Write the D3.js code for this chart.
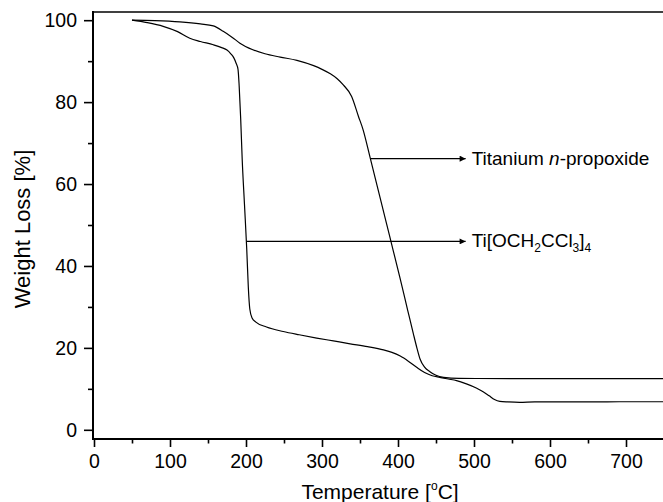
<!DOCTYPE html>
<html>
<head>
<meta charset="utf-8">
<script src="https://cdn.jsdelivr.net/npm/d3@7"></script>
<style>
  body { margin: 0; background: #fff; }
  text { font-family: "Liberation Sans", Arial, sans-serif; fill: #000; }
</style>
</head>
<body>
<div class="chart"></div>
<script>
// Chart Sizes
const w = 663;
const h = 502;
const margin = { top: 12, right: -1, bottom: 64, left: 94 };

// Data: temperature [°C] and weight [%]
const propoxideTemp = [50, 80, 113, 140, 157, 170, 182, 192, 209, 225, 245, 267, 289, 300, 311, 320, 328, 339, 348, 354, 363, 376, 389.5, 402.6, 413, 420, 425, 429, 435, 442, 450, 460, 480, 550, 650, 750];
const propoxideWeight = [100, 99.9, 99.6, 99.1, 98.6, 97.3, 95.8, 94.4, 92.8, 91.8, 91.0, 90.2, 88.9, 88.0, 86.9, 85.7, 84.2, 81.4, 76.5, 73.3, 66.7, 57.0, 46.9, 37.1, 29.0, 23.6, 19.9, 17.3, 15.3, 14.2, 13.3, 12.8, 12.55, 12.5, 12.5, 12.5];

const trichloroTemp = [50, 70, 91, 110, 126, 140, 157, 168, 175, 180, 184, 187, 189.5, 191, 193, 195, 198, 201, 203, 205, 208, 213, 227, 249, 270, 293, 315, 337, 360, 381, 392, 403, 414, 425, 435, 445, 455, 466, 477, 490, 503, 512, 520, 527, 534, 545, 560, 580, 600, 650, 700, 750];
const trichloroWeight = [100, 99.4, 98.5, 97.2, 95.6, 94.8, 94.0, 93.3, 92.7, 91.8, 90.8, 89.5, 88.0, 84, 76, 66, 55, 44, 35, 29.5, 27.3, 26.3, 25.1, 24.0, 23.2, 22.4, 21.7, 21.0, 20.3, 19.5, 18.9, 18.0, 16.7, 15.2, 14.0, 13.2, 12.8, 12.4, 12.0, 11.2, 10.2, 9.3, 8.3, 7.4, 6.95, 6.8, 6.7, 6.8, 6.8, 6.8, 6.85, 6.85];

// Axis ticks
const xMajor = [0, 100, 200, 300, 400, 500, 600, 700];
const xMinor = [50, 150, 250, 350, 450, 550, 650, 750];
const yMajor = [0, 20, 40, 60, 80, 100];
const yMinor = [10, 30, 50, 70, 90];

// Annotations: arrow start temperature, arrow end temperature, weight level
const labelNames = ["propoxide", "trichloro"];
const arrowFrom = [364, 201];
const arrowTo = [489, 489];
const arrowAt = [66.2, 46.0];

const svg = d3
  .select(".chart")
  .append("svg")
  .attr("width", w)
  .attr("height", h);

// Scales
const xScale = d3.scaleLinear().domain([0, 750]).range([margin.left, 664]);
const yScale = d3.scaleLinear().domain([-2, 102]).range([h - margin.bottom, margin.top]);

// Arrow marker
svg
  .append("defs")
  .append("marker")
  .attr("id", "arrow")
  .attr("viewBox", "0 0 10 10")
  .attr("refX", 10)
  .attr("refY", 5)
  .attr("markerWidth", 12)
  .attr("markerHeight", 6)
  .attr("markerUnits", "userSpaceOnUse")
  .attr("orient", "auto")
  .append("path")
  .attr("d", "M0,0 L10,5 L0,10 Z")
  .attr("fill", "#000");

// Axes
const fontTick = "19.5px";

const xAxis = svg
  .append("g")
  .attr("transform", `translate(0, ${h - margin.bottom + 1})`)
  .call(d3.axisBottom(xScale).tickValues(xMajor).tickSize(8).tickPadding(7));
xAxis.selectAll("text").style("font-size", fontTick);

const xAxisMinor = svg
  .append("g")
  .attr("transform", `translate(0, ${h - margin.bottom + 1})`)
  .call(d3.axisBottom(xScale).tickValues(xMinor).tickSize(4.5).tickFormat(""));

const yAxis = svg
  .append("g")
  .attr("transform", `translate(${margin.left - 1}, 0)`)
  .call(d3.axisLeft(yScale).tickValues(yMajor).tickSize(9).tickPadding(7));
yAxis.selectAll("text").style("font-size", fontTick);

const yAxisMinor = svg
  .append("g")
  .attr("transform", `translate(${margin.left - 1}, 0)`)
  .call(d3.axisLeft(yScale).tickValues(yMinor).tickSize(5).tickFormat(""));

svg.selectAll(".domain").remove();
svg.selectAll(".tick line").attr("stroke", "#000").attr("stroke-width", 1.6);

// Frame lines
svg
  .append("line")
  .attr("x1", margin.left - 1)
  .attr("x2", margin.left - 1)
  .attr("y1", margin.top - 1)
  .attr("y2", h - margin.bottom + 2)
  .attr("stroke", "#000")
  .attr("stroke-width", 2);

svg
  .append("line")
  .attr("x1", margin.left - 2)
  .attr("x2", w)
  .attr("y1", h - margin.bottom + 1)
  .attr("y2", h - margin.bottom + 1)
  .attr("stroke", "#000")
  .attr("stroke-width", 2);

svg
  .append("line")
  .attr("x1", margin.left - 2)
  .attr("x2", w)
  .attr("y1", margin.top)
  .attr("y2", margin.top)
  .attr("stroke", "#000")
  .attr("stroke-width", 1.6);

// Axis Labels
const xLabel = svg
  .append("text")
  .attr("text-anchor", "middle")
  .attr("x", 380)
  .attr("y", 499)
  .style("font-size", "21px");
xLabel.append("tspan").text("Temperature [");
xLabel.append("tspan").text("o").style("font-size", "12px").attr("dy", -9);
xLabel.append("tspan").text("C]").attr("dy", 9);

svg
  .append("text")
  .text("Weight Loss [%]")
  .attr("text-anchor", "middle")
  .attr("transform", "translate(30, 229) rotate(-90)")
  .style("font-size", "22px");

// Curves
const line = d3
  .line()
  .x((d) => xScale(d[0]))
  .y((d) => yScale(d[1]))
  .curve(d3.curveMonotoneX);

const curves = [
  d3.zip(propoxideTemp, propoxideWeight),
  d3.zip(trichloroTemp, trichloroWeight),
];

svg
  .selectAll(".curve")
  .data(curves)
  .enter()
  .append("path")
  .attr("class", "curve")
  .attr("d", line)
  .attr("fill", "none")
  .attr("stroke", "#000")
  .attr("stroke-width", 1.2);

// Annotation arrows
labelNames.forEach((name, i) => {
  svg
    .append("line")
    .attr("x1", xScale(arrowFrom[i]))
    .attr("x2", xScale(arrowTo[i]))
    .attr("y1", yScale(arrowAt[i]))
    .attr("y2", yScale(arrowAt[i]))
    .attr("stroke", "#000")
    .attr("stroke-width", 1.2)
    .attr("marker-end", "url(#arrow)");
});

// Annotation text
const labelSize = "19px";
const lab1 = svg
  .append("text")
  .attr("x", xScale(arrowTo[0]) + 6)
  .attr("y", yScale(arrowAt[0]) + 6)
  .style("font-size", labelSize);
lab1.append("tspan").text("Titanium ");
lab1.append("tspan").text("n").style("font-style", "italic");
lab1.append("tspan").text("-propoxide");

const lab2 = svg
  .append("text")
  .attr("x", xScale(arrowTo[1]) + 6)
  .attr("y", yScale(arrowAt[1]) + 6)
  .style("font-size", labelSize);
lab2.append("tspan").text("Ti[OCH");
lab2.append("tspan").text("2").style("font-size", "12px").attr("dy", 5);
lab2.append("tspan").text("CCl").attr("dy", -5);
lab2.append("tspan").text("3").style("font-size", "12px").attr("dy", 5);
lab2.append("tspan").text("]").attr("dy", -5);
lab2.append("tspan").text("4").style("font-size", "12px").attr("dy", 5);
</script>
</body>
</html>
